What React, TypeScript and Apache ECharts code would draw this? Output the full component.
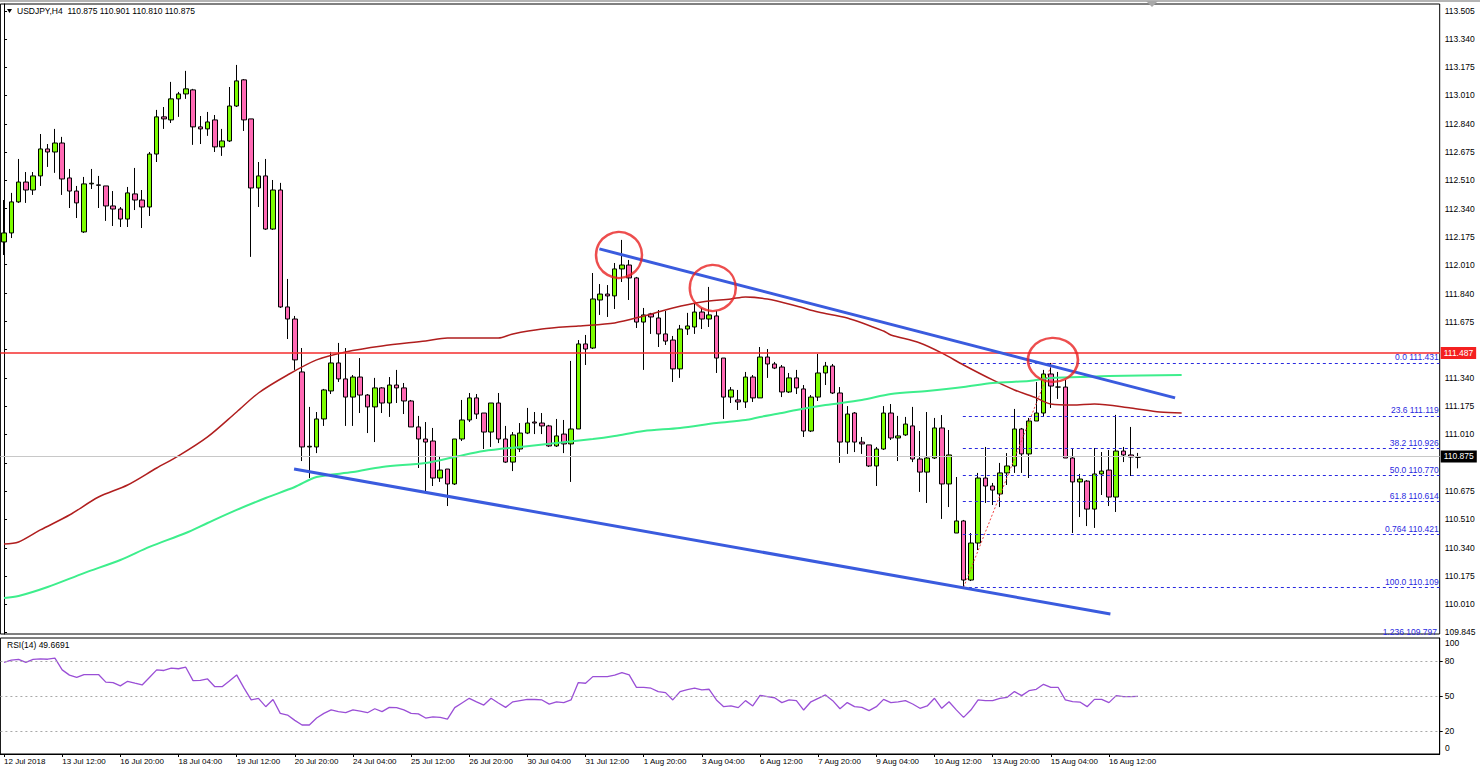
import React, { useEffect, useRef } from "react";
import * as echarts from "echarts";

const tickLabels = [
  "12 Jul 2018", "13 Jul 12:00", "16 Jul 20:00", "18 Jul 04:00", "19 Jul 12:00",
  "20 Jul 20:00", "24 Jul 04:00", "25 Jul 12:00", "26 Jul 20:00", "30 Jul 04:00",
  "31 Jul 12:00", "1 Aug 20:00", "3 Aug 04:00", "6 Aug 12:00", "7 Aug 20:00",
  "9 Aug 04:00", "10 Aug 12:00", "13 Aug 20:00", "15 Aug 04:00", "16 Aug 12:00",
];
const barsPerTick = 8;
const slotCount = 198;

const priceTicks = [
  113.505, 113.34, 113.175, 113.01, 112.84, 112.675, 112.51, 112.34, 112.175, 112.01,
  111.84, 111.675, 111.51, 111.34, 111.175, 111.01, 110.84, 110.675, 110.51, 110.34,
  110.175, 110.01, 109.845,
];
// labels hidden behind the price boxes are left out
const priceLabels = [
  113.505, 113.34, 113.175, 113.01, 112.84, 112.675, 112.51, 112.34, 112.175, 112.01,
  111.84, 111.675, 111.34, 111.175, 111.01, 110.675, 110.51, 110.34,
  110.175, 110.01, 109.845,
];
const rsiTicks = [20, 50, 80];

// [open, close, low, high]
const candles: number[][] = [
  [112.144, 112.197, 112.067, 112.391], [112.197, 112.380, 112.167, 112.433], [112.380, 112.497, 112.374, 112.633],
  [112.497, 112.450, 112.374, 112.556], [112.450, 112.533, 112.421, 112.556], [112.533, 112.692, 112.474, 112.780],
  [112.692, 112.674, 112.586, 112.721], [112.674, 112.727, 112.551, 112.810], [112.727, 112.515, 112.421, 112.763],
  [112.521, 112.444, 112.344, 112.574], [112.444, 112.374, 112.285, 112.474], [112.203, 112.486, 112.197, 112.527],
  [112.486, 112.490, 112.456, 112.574], [112.480, 112.478, 112.344, 112.533], [112.474, 112.356, 112.268, 112.474],
  [112.356, 112.338, 112.238, 112.444], [112.338, 112.279, 112.232, 112.350], [112.279, 112.433, 112.232, 112.468],
  [112.427, 112.391, 112.332, 112.580], [112.391, 112.350, 112.226, 112.450], [112.350, 112.662, 112.297, 112.674],
  [112.662, 112.881, 112.615, 112.922], [112.881, 112.869, 112.810, 112.939], [112.863, 112.987, 112.845, 113.087],
  [112.987, 113.016, 112.881, 113.028], [113.016, 113.046, 112.987, 113.152], [113.040, 112.822, 112.716, 113.046],
  [112.822, 112.810, 112.721, 112.886], [112.810, 112.851, 112.769, 112.910], [112.863, 112.704, 112.674, 112.892],
  [112.704, 112.739, 112.651, 112.810], [112.739, 112.945, 112.733, 113.057], [112.945, 113.093, 112.939, 113.187],
  [113.099, 112.863, 112.798, 113.104], [112.869, 112.462, 112.056, 112.869], [112.462, 112.533, 112.350, 112.615],
  [112.533, 112.220, 112.215, 112.633], [112.220, 112.450, 112.215, 112.509], [112.450, 111.761, 111.755, 112.492],
  [111.761, 111.690, 111.572, 111.926], [111.690, 111.449, 111.390, 111.708], [111.378, 110.936, 110.853, 111.519],
  [110.936, 110.940, 110.753, 111.172], [110.936, 111.101, 110.900, 111.142], [111.101, 111.272, 111.060, 111.278],
  [111.266, 111.431, 111.248, 111.496], [111.431, 111.337, 111.319, 111.549], [111.337, 111.230, 111.060, 111.519],
  [111.230, 111.348, 111.060, 111.360], [111.348, 111.242, 111.136, 111.460], [111.242, 111.172, 111.018, 111.248],
  [111.172, 111.284, 110.965, 111.343], [111.284, 111.195, 111.136, 111.289], [111.195, 111.301, 111.113, 111.348],
  [111.301, 111.284, 111.195, 111.390], [111.284, 111.207, 111.130, 111.313], [111.207, 111.054, 111.054, 111.213],
  [111.054, 110.983, 110.812, 111.119], [110.983, 110.965, 110.671, 111.083], [110.971, 110.753, 110.706, 111.048],
  [110.753, 110.800, 110.730, 110.883], [110.806, 110.718, 110.588, 110.806], [110.718, 110.983, 110.712, 110.983],
  [110.983, 111.095, 110.971, 111.213], [111.095, 111.225, 111.083, 111.254], [111.225, 111.130, 111.101, 111.248],
  [111.136, 111.024, 110.924, 111.136], [111.024, 111.195, 110.936, 111.195], [111.195, 110.983, 110.959, 111.254],
  [110.983, 110.847, 110.842, 111.060], [110.847, 111.007, 110.794, 111.024], [110.924, 111.018, 110.906, 111.077],
  [111.018, 111.077, 111.012, 111.166], [111.083, 111.077, 111.012, 111.142], [111.077, 111.060, 111.012, 111.136],
  [111.060, 110.942, 110.936, 111.066], [110.942, 111.001, 110.936, 111.101], [111.012, 110.954, 110.900, 111.095],
  [110.954, 111.042, 110.730, 111.443], [111.042, 111.543, 111.042, 111.566], [111.543, 111.513, 111.419, 111.596],
  [111.519, 111.808, 111.513, 111.961], [111.802, 111.837, 111.714, 111.896], [111.837, 111.826, 111.702, 111.890],
  [111.826, 111.985, 111.749, 112.020], [111.985, 112.008, 111.908, 112.156], [112.008, 111.932, 111.802, 112.038],
  [111.932, 111.672, 111.637, 111.938], [111.672, 111.714, 111.390, 111.755], [111.720, 111.702, 111.602, 111.726],
  [111.696, 111.602, 111.525, 111.743], [111.602, 111.560, 111.537, 111.737], [111.566, 111.396, 111.319, 111.590],
  [111.396, 111.631, 111.343, 111.655], [111.631, 111.649, 111.596, 111.726], [111.643, 111.731, 111.602, 111.779],
  [111.731, 111.690, 111.631, 111.755], [111.690, 111.714, 111.643, 111.879], [111.708, 111.460, 111.372, 111.737],
  [111.460, 111.230, 111.101, 111.460], [111.230, 111.272, 111.195, 111.289], [111.213, 111.201, 111.154, 111.272],
  [111.201, 111.348, 111.166, 111.378], [111.348, 111.225, 111.201, 111.360], [111.225, 111.466, 111.225, 111.525],
  [111.466, 111.425, 111.343, 111.513], [111.425, 111.401, 111.395, 111.437], [111.407, 111.260, 111.230, 111.419],
  [111.260, 111.343, 111.254, 111.372], [111.343, 111.284, 111.248, 111.390], [111.278, 111.030, 110.995, 111.301],
  [111.030, 111.230, 111.024, 111.242], [111.230, 111.372, 111.207, 111.484], [111.372, 111.413, 111.301, 111.437],
  [111.413, 111.254, 111.248, 111.425], [111.254, 110.965, 110.842, 111.289], [110.965, 111.130, 110.895, 111.177],
  [111.136, 110.965, 110.906, 111.142], [110.965, 110.954, 110.895, 110.995], [110.948, 110.824, 110.818, 110.948],
  [110.824, 110.924, 110.706, 110.936], [110.924, 111.136, 110.918, 111.177], [111.136, 110.989, 110.977, 111.189],
  [110.989, 111.001, 110.853, 111.119], [111.007, 111.071, 111.001, 111.113], [111.060, 110.865, 110.847, 111.172],
  [110.865, 110.788, 110.671, 111.030], [110.788, 110.871, 110.606, 111.142], [110.871, 111.048, 110.865, 111.107],
  [111.048, 110.718, 110.512, 111.124], [110.718, 110.889, 110.582, 111.036], [110.429, 110.500, 110.429, 110.759],
  [110.500, 110.152, 110.109, 110.506], [110.152, 110.370, 110.146, 110.429], [110.370, 110.753, 110.329, 110.783],
  [110.753, 110.706, 110.606, 110.936], [110.706, 110.682, 110.594, 110.724], [110.659, 110.783, 110.582, 110.842],
  [110.783, 110.824, 110.712, 110.900], [110.824, 111.042, 110.783, 111.160], [111.042, 110.895, 110.783, 111.048],
  [110.895, 111.089, 110.753, 111.107], [111.089, 111.136, 111.089, 111.319], [111.136, 111.366, 111.113, 111.390],
  [111.366, 111.295, 111.166, 111.431], [111.289, 111.289, 111.219, 111.378], [111.289, 110.871, 110.871, 111.331],
  [110.871, 110.730, 110.429, 110.930], [110.730, 110.747, 110.523, 110.777], [110.735, 110.570, 110.470, 110.741],
  [110.570, 110.777, 110.459, 110.930], [110.777, 110.794, 110.653, 110.906], [110.800, 110.641, 110.588, 110.918],
  [110.641, 110.912, 110.553, 111.125], [110.912, 110.889, 110.847, 110.936], [110.889, 110.877, 110.765, 111.054],
  [110.875, 110.875, 110.810, 110.901],
];

const rsi = [
  79, 81, 81.5, 79, 81.5, 82, 81.7, 82.6, 72.5, 68, 66, 68.5, 68.5, 68.5, 62, 61.5, 58.7, 62.7, 61, 59.5,
  66, 72.5, 72, 74, 73.5, 74.8, 63.3, 63.5, 64.7, 58, 58, 63, 68.2, 57, 46.6, 48, 40.8, 47, 35, 33.6,
  29, 25, 25, 31, 35, 38, 36.5, 35.6, 38, 37, 35.6, 39, 36.5, 40.2, 40, 38, 35, 34.6, 31, 32,
  31.6, 30.1, 40, 44, 48, 45, 42.2, 48, 44, 40.2, 45, 46, 47, 47, 46.6, 43, 45, 44.3, 46.6, 61.6,
  61, 66.7, 66.7, 66.7, 68, 70.2, 68.2, 57.5, 57.5, 56.7, 53.8, 52.9, 46.6, 53.8, 55.5, 56.7, 55.2, 55.8, 46.6, 40.8,
  41.4, 40, 46, 41.4, 50.6, 49.5, 48.5, 44.3, 46.6, 46, 37.9, 45, 48, 50.9, 46, 39, 44.3, 40.8, 40.2, 37.4,
  40.8, 47.1, 44.3, 45, 46, 43.1, 39.4, 41.4, 48, 39.4, 45, 38, 31.6, 37.9, 46.6, 46, 46, 48, 48.9, 53.8,
  50.3, 54.6, 55.8, 60.1, 57.5, 57.5, 46.6, 45.1, 44.8, 40.8, 47.1, 47.1, 44.3, 50.3, 49.5, 49.5, 49.67,
];

// moving averages read at sampled bars: [bar, price]
const maRed = [
  [0, 110.364], [2, 110.376], [5, 110.447], [9, 110.535], [13, 110.641], [17, 110.712], [21, 110.812],
  [24, 110.883], [28, 110.995], [32, 111.142], [35, 111.254], [39, 111.36], [43, 111.449], [47, 111.496],
  [52, 111.531], [58, 111.561], [61, 111.578], [68, 111.578], [70, 111.602], [74, 111.631], [79, 111.649],
  [84, 111.667], [88, 111.708], [92, 111.755], [96, 111.79], [100, 111.808], [102, 111.82], [105, 111.808],
  [109, 111.767], [112, 111.731], [116, 111.696], [121, 111.619], [122, 111.596], [126, 111.549],
  [129, 111.49], [132, 111.419], [136, 111.331], [139, 111.272], [142, 111.225], [144, 111.189],
  [147, 111.183], [150, 111.189], [155, 111.166], [159, 111.142], [162, 111.136],
];
const maGreen = [
  [0, 110.046], [2, 110.058], [6, 110.111], [11, 110.193], [16, 110.27], [20, 110.347], [25, 110.429],
  [28, 110.488], [32, 110.565], [36, 110.635], [40, 110.7], [43, 110.759], [48, 110.788], [52, 110.818],
  [58, 110.842], [62, 110.877], [66, 110.912], [71, 110.936], [76, 110.959], [81, 110.983], [84, 111.001],
  [88, 111.03], [93, 111.048], [98, 111.077], [102, 111.095], [104, 111.113], [107, 111.136], [109, 111.154],
  [113, 111.183], [118, 111.213], [122, 111.248], [127, 111.266], [132, 111.289], [136, 111.313],
  [141, 111.325], [144, 111.342], [148, 111.348], [152, 111.354], [162, 111.36],
];

const upperTrend = [[81.9, 112.103], [161.1, 111.225]];
const lowerTrend = [[39.9, 110.806], [152.2, 109.952]];
const fibBase = [[132, 110.109], [144.2, 111.431]];
const fibStart = 131.9;
const fibNames = ["0.0", "23.6", "38.2", "50.0", "61.8", "0.764", "100.0"];
const fibValues = [111.431, 111.119, 110.926, 110.77, 110.614, 110.421, 110.109];
const highlights = [[84.6, 112.067, 46, 46], [97.5, 111.873, 46, 46], [144.3, 111.449, 50, 44]];
const resistance = 111.487;
const lastPrice = 110.875;
const header = "USDJPY,H4  110.875 110.901 110.810 110.875";
const rsiTitle = "RSI(14) 49.6691";

const FONT = "Liberation Sans";

export default function App() {
  const ref = useRef<HTMLDivElement>(null);
  useEffect(() => {
    if (!ref.current) return;
    const chart = echarts.init(ref.current, undefined, { renderer: "svg" });
    const cats = Array.from({ length: slotCount }, (_, i) => String(i));
    const showTick = (i: number) => i % barsPerTick === 0 && i / barsPerTick < tickLabels.length;
    const gridLeft = 0.4;
    const gridWidth = 1439.3;
    const option: any = {
      animation: false,
      backgroundColor: "#ffffff",
      grid: [
        { left: gridLeft, top: 4, width: gridWidth, height: 630, show: true, borderColor: "#000", borderWidth: 1, backgroundColor: "#fff" },
        { left: gridLeft, top: 638, width: gridWidth, height: 116, show: true, borderColor: "#000", borderWidth: 1, backgroundColor: "#fff" },
      ],
      xAxis: [
        { type: "category", gridIndex: 0, data: cats, show: false, boundaryGap: true },
        {
          type: "category", gridIndex: 1, data: cats, boundaryGap: true,
          axisLine: { show: true, lineStyle: { color: "#000" } },
          axisTick: { show: true, alignWithLabel: true, interval: (i: number) => showTick(i), length: 3, lineStyle: { color: "#000" } },
          axisLabel: {
            show: true, interval: (i: number) => showTick(i), align: "left", margin: 3,
            fontSize: 8, fontFamily: FONT, color: "#000",
            formatter: (_v: string, i: number) => tickLabels[i / barsPerTick] || "",
          },
          splitLine: { show: false },
        },
        { type: "value", gridIndex: 0, min: -0.5, max: slotCount - 0.5, show: false },
      ],
      yAxis: [
        {
          type: "value", gridIndex: 0, position: "right", min: 109.834, max: 113.546, scale: true,
          axisLine: { show: true, lineStyle: { color: "#000" } },
          axisTick: { show: true, customValues: priceTicks, length: 3, lineStyle: { color: "#000" } },
          axisLabel: { show: true, customValues: priceLabels, formatter: (v: number) => v.toFixed(3), fontSize: 8.5, fontFamily: FONT, color: "#000", margin: 5 },
          splitLine: { show: false },
        },
        {
          type: "value", gridIndex: 1, position: "right", min: 0, max: 100,
          axisLine: { show: true, lineStyle: { color: "#000" } },
          axisTick: { show: true, customValues: rsiTicks, length: 3, lineStyle: { color: "#000" } },
          axisLabel: { show: true, customValues: rsiTicks, fontSize: 8.5, fontFamily: FONT, color: "#000", margin: 5 },
          splitLine: { show: false },
        },
      ],
      series: [
        {
          type: "candlestick", xAxisIndex: 0, yAxisIndex: 0, data: candles, barWidth: 5,
          itemStyle: { color: "#7CFC00", color0: "#FF69B4", borderColor: "#000", borderColor0: "#000", borderWidth: 1 },
          markLine: {
            silent: true, symbol: "none", animation: false,
            data: [
              {
                yAxis: lastPrice, lineStyle: { color: "#C8C8C8", width: 1, type: "solid" },
                label: { show: true, position: "end", distance: 1, formatter: lastPrice.toFixed(3), backgroundColor: "#000", color: "#fff", padding: [2, 3, 1, 3], fontSize: 8.5, fontFamily: FONT },
              },
              {
                yAxis: resistance, lineStyle: { color: "#F42C2C", width: 1.5, type: "solid" },
                label: { show: true, position: "end", distance: 1, formatter: resistance.toFixed(3), backgroundColor: "#F42020", color: "#fff", padding: [2, 3, 1, 3], fontSize: 8.5, fontFamily: FONT },
              },
            ],
          },
          z: 3,
        },
        {
          type: "line", xAxisIndex: 2, yAxisIndex: 0, data: maRed, showSymbol: false, smooth: 0.3,
          lineStyle: { color: "#B01E1E", width: 1.5 }, z: 4, silent: true,
        },
        {
          type: "line", xAxisIndex: 2, yAxisIndex: 0, data: maGreen, showSymbol: false, smooth: 0.3,
          lineStyle: { color: "#3DEE8C", width: 2 }, z: 4, silent: true,
        },
        {
          type: "line", xAxisIndex: 2, yAxisIndex: 0, data: fibBase, showSymbol: false,
          lineStyle: { color: "#F04040", width: 1, type: [2, 2] }, z: 5, silent: true,
          markLine: {
            silent: true, symbol: "none", animation: false,
            lineStyle: { color: "#2A2AE0", width: 1, type: [3, 3] },
            label: { show: true, position: "insideEndTop", distance: 1, color: "#2A2AE0", fontSize: 8.5, fontFamily: FONT },
            data: fibValues.map((v, i) => [
              { coord: [fibStart, v], label: { formatter: fibNames[i] + " " + v.toFixed(3) } },
              { coord: [slotCount - 0.5, v] },
            ]),
          },
        },
        {
          type: "line", xAxisIndex: 2, yAxisIndex: 0, data: upperTrend, showSymbol: false,
          lineStyle: { color: "#3A5BDE", width: 3 }, z: 6, silent: true,
        },
        {
          type: "line", xAxisIndex: 2, yAxisIndex: 0, data: lowerTrend, showSymbol: false,
          lineStyle: { color: "#3A5BDE", width: 3 }, z: 6, silent: true,
        },
        {
          type: "scatter", xAxisIndex: 2, yAxisIndex: 0, silent: true, z: 7,
          data: highlights.map((h) => ({ value: [h[0], h[1]], symbolSize: [h[2], h[3]] })),
          symbol: "circle",
          itemStyle: { color: "rgba(0,0,0,0)", borderColor: "#E82222", borderWidth: 2.5 },
        },
        {
          type: "line", xAxisIndex: 1, yAxisIndex: 1, data: rsi, showSymbol: false,
          lineStyle: { color: "#9A4FD6", width: 1.3 }, silent: true,
          markLine: {
            silent: true, symbol: "none", animation: false,
            lineStyle: { color: "#A8A8A8", width: 1, type: [2, 3] },
            label: { show: false },
            data: rsiTicks.map((v) => ({ yAxis: v })),
          },
        },
      ],
      graphic: [
        { type: "rect", shape: { x: 0, y: 0, width: 1480, height: 2 }, style: { fill: "#B4B4B4" }, silent: true },
        { type: "polygon", shape: { points: [[1146, 1], [1158, 1], [1152, 7]] }, style: { fill: "#A8A8A8" }, silent: true },
        { type: "polygon", shape: { points: [[7, 9], [12, 9], [9.5, 13]] }, style: { fill: "#000" }, silent: true, z: 10 },
        { type: "text", x: 17, y: 11, style: { text: header, fill: "#000", fontSize: 8.5, fontFamily: FONT, verticalAlign: "middle" }, silent: true, z: 10 },
        { type: "text", x: 7, y: 645, style: { text: rsiTitle, fill: "#000", fontSize: 8.5, fontFamily: FONT, verticalAlign: "middle" }, silent: true, z: 10 },
        { type: "text", x: 1445, y: 643, style: { text: "100", fill: "#000", fontSize: 8.5, fontFamily: FONT, verticalAlign: "middle" }, silent: true, z: 10 },
        { type: "text", x: 1445, y: 748, style: { text: "0", fill: "#000", fontSize: 8.5, fontFamily: FONT, verticalAlign: "middle" }, silent: true, z: 10 },
        { type: "text", x: 1437, y: 636, style: { text: "1.236 109.797", fill: "#2A2AE0", fontSize: 8.5, fontFamily: FONT, align: "right", verticalAlign: "bottom" }, silent: true, z: 10 },
      ],
    };
    chart.setOption(option);
    return () => chart.dispose();
  }, []);
  return <div ref={ref} style={{ position: "fixed", left: 0, top: 0, width: 1480, height: 772, background: "#fff" }} />;
}
